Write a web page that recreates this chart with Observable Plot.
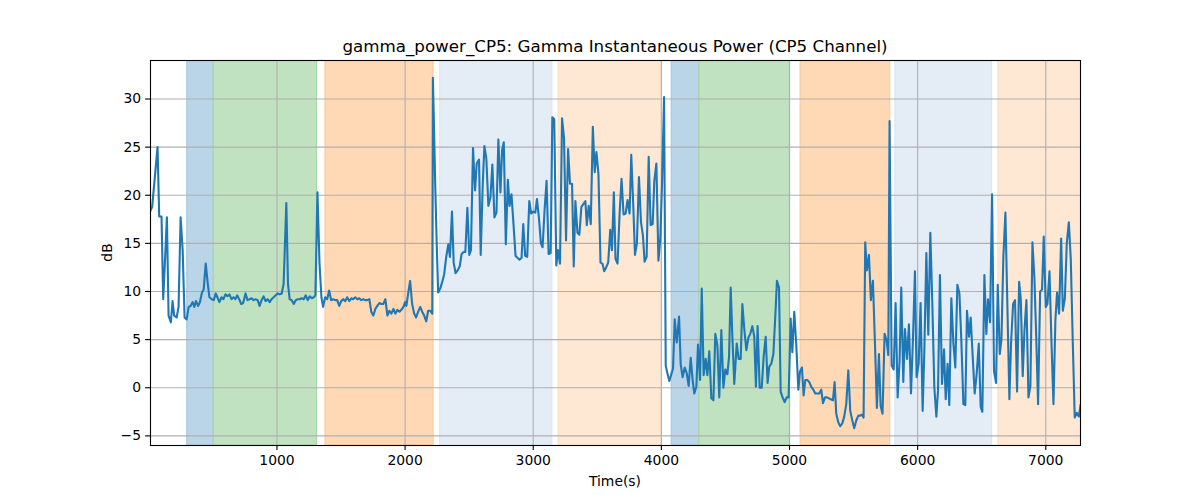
<!DOCTYPE html>
<html>
<head>
<meta charset="utf-8">
<script src="https://cdn.jsdelivr.net/npm/d3@7"></script>
<script src="https://cdn.jsdelivr.net/npm/@observablehq/plot@0.6"></script>
<style>
  html, body { margin: 0; padding: 0; background: #fff; }
  #chart { width: 1200px; height: 500px; }
</style>
</head>
<body>
<div id="chart"></div>
<script>
const titleText = "gamma_power_CP5: Gamma Instantaneous Power (CP5 Channel)";
const xLabel = "Time(s)";
const yLabel = "dB";
const xTicks = [1000, 2000, 3000, 4000, 5000, 6000, 7000];
const yTicks = [-5, 0, 5, 10, 15, 20, 25, 30];

const time = [
13,26,47,68,81,99,112,125,141,154,172,185,198,217,232,248,264,279,295,311,326,342,355,368,384,399,415,428,444,460,473,491,507,522,535,551,567,582,598,614,629,645,661,676,689,705,721,736,755,770,786,802,817,833,849,864,880,896,911,927,943,958,974,990,1005,1021,1037,1052,1073,1086,1099,1115,1131,1146,1162,1178,1193,1209,1225,1240,1256,1272,1287,1300,1316,1332,1347,1360,1376,1392,1407,1423,1439,1454,1470,1486,1501,1517,1533,1548,1564,1580,1595,1611,1627,1642,1658,1674,1689,1705,1721,1736,1752,1768,1783,1799,1815,1830,1846,1862,1877,1893,1909,1924,1940,1956,1971,1987,2000,2010,2024,2039,2055,2071,2086,2102,2118,2133,2149,2165,2180,2196,2212,
2217,2235,2248,2258,2274,2290,2305,2321,2337,2350,2366,2379,2394,2410,2426,2441,2457,2470,2486,2501,2514,2530,2546,2559,2577,2590,2606,2619,2634,2650,2666,2681,2697,2713,2728,2744,2757,2770,2786,2802,2815,2830,2846,2862,2877,2893,2909,2922,2937,2953,2969,2984,3000,3016,3029,3044,3060,3073,3089,3104,3120,3136,3149,3164,3180,3193,3209,3225,3240,3256,3272,3287,3303,3316,3329,3345,3360,3376,3392,3407,3418,3433,3449,3465,3480,3493,3509,3525,3540,3554,3569,3585,3601,3614,3629,3642,3658,3674,3689,3705,3721,3736,3752,3765,3781,3794,3809,3825,3841,3856,3869,3885,3901,3916,3932,3945,3961,3977,3992,4005,4021,
4034,4047,4062,4078,4091,4104,4120,4138,4151,4166,4182,4198,4213,4229,4244,4257,4273,4286,4302,4315,4330,4346,4359,4374,4390,4406,4421,4437,4452,4468,4484,4499,4515,4528,4541,4554,4569,4588,4603,4619,4632,4647,4663,4679,4694,4710,4725,4738,4751,4767,4783,4798,4814,4829,4842,4858,4874,4889,4902,4918,4931,4946,4962,4978,4993,5009,5022,5037,5053,5069,5082,5097,5110,5123,5139,5154,5170,5186,5201,5217,5232,5248,5261,5277,5292,5308,5323,5339,5352,5365,5381,5396,5412,5427,5443,5459,5474,5490,5505,5521,5537,5552,5565,5578,5591,5604,5620,5635,5651,5667,5682,5698,5711,5726,5742,5758,5771,
5781,5797,5813,5828,5844,5859,5872,5888,5901,5917,5932,5948,5964,5979,5992,6008,6023,6039,6052,6068,6083,6099,6115,6130,6146,6159,6174,6190,6206,6219,6234,6247,6263,6279,6294,6310,6326,6341,6357,6372,6385,6401,6414,6430,6445,6461,6477,6492,6505,6521,6536,6549,6565,6581,6596,6612,6625,6641,6654,6669,6685,6700,6716,6729,6745,6760,6776,6792,6805,6820,6833,6849,6865,6880,6896,6911,6927,6940,6956,6971,6984,7000,7013,7029,7044,7060,7075,7088,7104,7120,7133,7149,7164,7180,7195,7211,7226,7242,7258,7271
];

const power = [
18.4,18.8,21.9,25.0,17.8,17.8,9.2,12.9,17.7,7.5,6.8,9.0,7.5,7.3,8.4,17.7,14.3,7.3,7.1,8.4,8.5,8.9,8.4,9.0,8.5,8.9,9.9,10.2,12.9,10.8,9.4,9.2,9.1,9.8,9.4,8.9,9.4,9.2,9.7,9.5,9.7,9.2,9.4,9.2,9.6,9.2,8.7,8.8,9.8,9.1,9.2,9.3,9.1,9.2,9.1,8.5,9.1,9.5,9.0,9.2,8.9,9.2,9.4,9.6,9.8,9.7,9.8,10.8,19.2,10.8,9.2,9.1,8.7,9.1,9.2,9.2,9.3,9.2,9.6,9.1,9.5,9.3,9.4,9.6,20.3,12.9,9.4,8.4,9.4,9.2,10.1,9.1,9.2,9.1,9.1,8.5,9.0,9.2,9.0,9.4,9.0,9.3,9.2,9.4,9.2,9.3,9.1,9.2,9.1,9.1,9.2,7.9,7.5,8.2,8.5,8.8,8.7,8.7,9.2,7.5,8.0,7.7,8.2,7.7,8.1,7.9,8.1,8.4,8.9,8.5,9.8,11.1,8.7,7.7,7.3,7.9,8.4,7.9,7.5,6.9,8.0,8.0,7.7,
32.2,21.2,14.3,9.9,10.3,11.0,11.8,13.6,14.9,13.6,18.3,13.0,11.9,12.2,12.6,13.9,14.1,14.1,18.7,13.8,14.3,24.9,20.5,23.3,23.7,13.8,21.2,25.1,23.8,18.9,19.8,23.2,17.7,18.2,25.8,20.3,24.7,25.5,14.9,21.6,18.9,20.1,17.0,13.7,13.5,13.3,13.5,17.0,13.7,13.6,19.4,18.1,18.3,18.2,19.6,17.7,15.0,14.6,18.6,21.5,13.9,14.0,28.1,27.9,12.7,14.3,12.9,28.0,26.0,15.3,24.8,21.2,21.2,12.6,19.4,16.1,15.9,18.8,19.1,19.4,16.9,18.9,17.0,27.1,22.4,24.5,22.2,13.0,12.9,12.1,12.5,13.0,16.4,14.3,20.3,13.4,12.9,18.1,21.7,18.0,18.1,19.5,18.1,24.2,18.8,13.8,15.0,21.9,17.2,15.8,13.1,13.6,24.0,16.9,17.0,21.5,23.3,13.2,15.6,21.2,30.2,
2.3,1.5,0.7,1.4,2.0,7.1,4.7,7.4,2.4,1.1,2.1,1.5,0.2,3.1,0.8,-0.6,0.1,4.5,0.8,10.3,1.3,3.0,1.3,3.8,-1.1,-1.3,5.6,4.4,-1.0,6.0,0.0,1.9,1.4,3.2,10.4,5.3,0.4,4.6,3.0,3.0,8.7,6.1,3.9,5.2,5.6,6.4,5.3,0.1,6.4,0.0,0.0,3.2,5.3,0.5,2.2,2.5,3.5,7.4,11.1,10.4,-0.4,-1.0,-1.5,-1.0,-1.0,7.2,3.7,7.9,4.4,-0.2,1.7,2.1,-0.8,0.8,0.8,0.6,0.1,-0.2,-0.6,-0.6,-0.6,-0.2,-1.6,-1.0,-1.0,-1.1,-1.2,-1.3,0.6,-2.7,-3.6,-4.0,-3.7,-3.0,-1.7,1.8,-2.4,-3.4,-4.2,-3.4,-2.9,-2.9,-2.8,-3.1,15.1,12.2,13.8,9.1,11.1,4.6,-2.1,3.5,-1.9,-2.7,5.6,4.9,3.4,
27.7,2.3,1.9,8.8,-1.0,2.8,10.4,0.6,6.1,3.0,6.6,-0.6,5.3,12.1,1.1,2.5,8.8,-2.4,3.7,14.0,5.5,16.1,8.5,0.1,-3.0,-0.3,11.7,0.4,4.0,-1.2,2.5,-1.8,9.3,4.6,2.1,10.7,9.8,4.9,-1.7,-1.8,8.0,5.3,7.3,3.2,-0.6,1.5,4.6,-2.0,-2.5,11.7,5.6,9.2,6.8,20.1,1.7,0.5,10.7,3.5,5.0,13.6,18.2,8.7,-1.2,4.6,8.7,9.1,-0.4,11.0,9.2,1.2,5.8,9.1,-1.0,0.2,15.1,11.5,4.6,-1.7,10.0,10.2,15.7,8.4,8.7,12.1,4.9,-1.7,7.0,9.9,7.7,15.5,8.0,9.3,15.0,17.2,13.4,4.6,-3.1,-2.6,-3.0,-1.8
];

const bandStart = [300, 507, 1379, 2274, 3198, 4081, 4296, 5087, 5826, 6630];
const bandEnd   = [507, 1313, 2222, 3149, 4003, 4296, 5004, 5786, 6581, 7300];
const bandKind  = ["blue", "green", "orange", "lightblue", "lightorange", "blue", "green", "orange", "lightblue", "lightorange"];

const kindFill = {blue: "#BAD4E8", green: "#C0E2C0", orange: "#FFD8B5", lightblue: "#E4ECF6", lightorange: "#FEE8D4"};
const kindEdge = {blue: "#A9C9E2", green: "#A9D6A9", orange: "#FCCA9E", lightblue: "#DCE6F3", lightorange: "#FCDFC4"};

const series = time.map((t, i) => ({t, v: power[i]}));
const bands = bandStart.map((s, i) => ({s, e: bandEnd[i], k: bandKind[i]}));

const W = 1200, H = 500;
const mL = 150, mR = 120, mT = 60, mB = 55;
const fmtY = d => d < 0 ? "\u2212" + Math.abs(d) : String(d);
const fmtX = d => String(d);

const plot = Plot.plot({
  width: W,
  height: H,
  marginLeft: mL,
  marginRight: mR,
  marginTop: mT,
  marginBottom: mB,
  style: {fontFamily: "DejaVu Sans, sans-serif", fontSize: "13.9px", color: "#000", background: "#fff"},
  x: {domain: [13, 7271], ticks: xTicks, tickFormat: fmtX, label: null},
  y: {domain: [-6.0, 34.0], ticks: yTicks, tickFormat: fmtY, label: null},
  marks: [
    Plot.rect(bands, {x1: "s", x2: "e", fill: d => kindFill[d.k], stroke: d => kindEdge[d.k], strokeWidth: 1.2, clip: true}),
    Plot.gridX(xTicks, {stroke: "#b0b0b0", strokeOpacity: 1, strokeWidth: 1.1}),
    Plot.gridY(yTicks, {stroke: "#b0b0b0", strokeOpacity: 1, strokeWidth: 1.1}),
    Plot.line(series, {x: "t", y: "v", stroke: "#1f77b4", strokeWidth: 2.1, strokeLinejoin: "round", strokeLinecap: "square", clip: true}),
    Plot.frame({stroke: "#000", strokeWidth: 1.1}),
    Plot.axisX(xTicks, {tickSize: 4.9, tickPadding: 4.5, stroke: "#000", strokeWidth: 1.1, fontSize: "13.9px", label: null, tickFormat: fmtX}),
    Plot.axisY(yTicks, {tickSize: 4.9, tickPadding: 4.5, stroke: "#000", strokeWidth: 1.1, fontSize: "13.9px", label: null, tickFormat: fmtY})
  ]
});

const svg = d3.select(plot);
const cx = mL + (W - mL - mR) / 2;
svg.append("text")
  .attr("x", cx).attr("y", 52)
  .attr("text-anchor", "middle")
  .attr("font-family", "DejaVu Sans, sans-serif")
  .attr("font-size", "16.7px")
  .attr("fill", "#000")
  .text(titleText);
svg.append("text")
  .attr("x", cx).attr("y", 486)
  .attr("text-anchor", "middle")
  .attr("font-family", "DejaVu Sans, sans-serif")
  .attr("font-size", "13.9px")
  .attr("fill", "#000")
  .text(xLabel);
svg.append("text")
  .attr("transform", `translate(112, ${mT + (H - mT - mB) / 2}) rotate(-90)`)
  .attr("text-anchor", "middle")
  .attr("font-family", "DejaVu Sans, sans-serif")
  .attr("font-size", "13.9px")
  .attr("fill", "#000")
  .text(yLabel);

document.getElementById("chart").appendChild(plot);
</script>
</body>
</html>
